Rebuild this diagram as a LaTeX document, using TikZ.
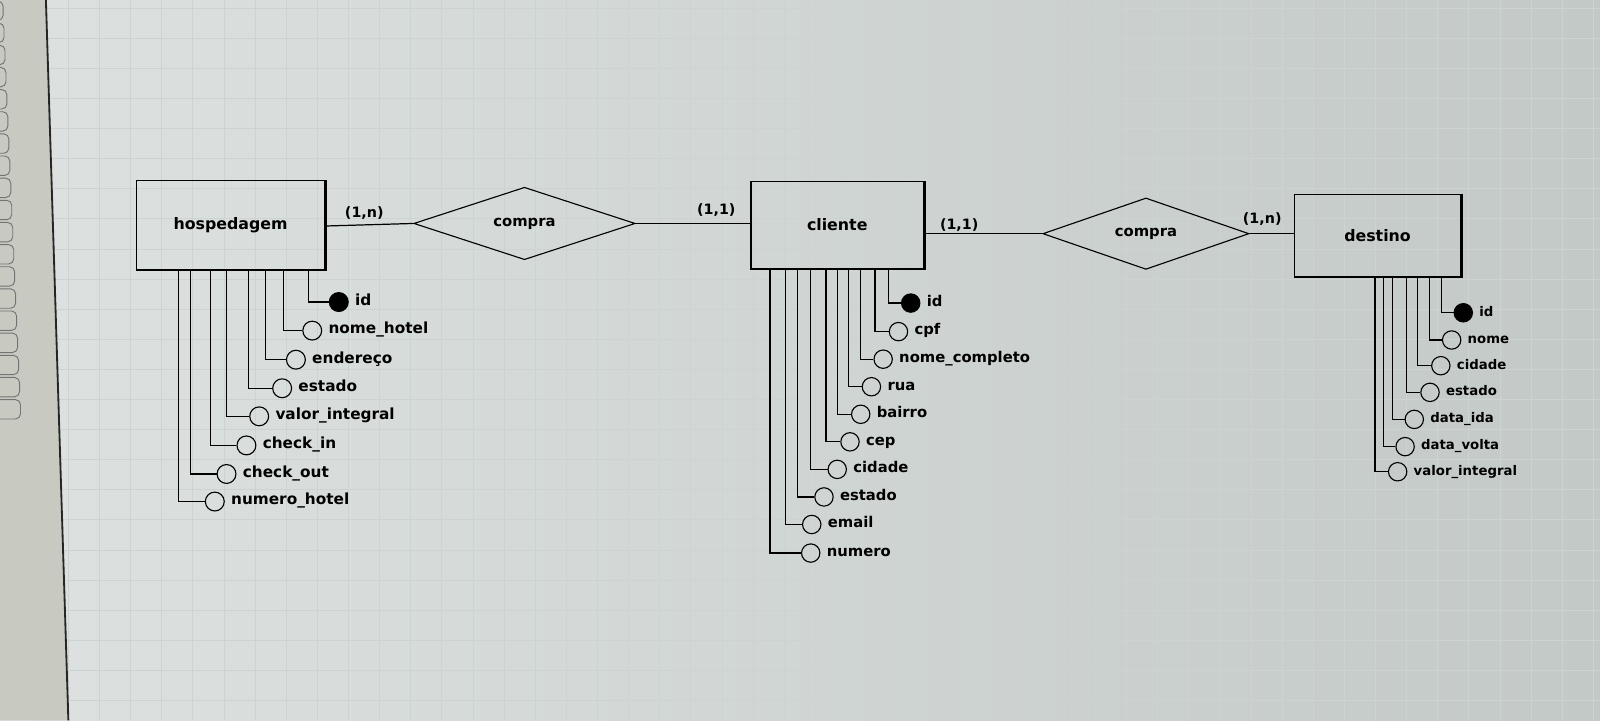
\documentclass[tikz,border=0pt]{standalone}
\usepackage{fontspec}
\setmainfont{DejaVu Sans}
\usepackage{tikz}
\usetikzlibrary{shapes.geometric}

\definecolor{fundoE}{HTML}{DDE2E1}
\definecolor{fundoM}{HTML}{E3E8E6}
\definecolor{fundoD}{HTML}{C3C9C7}
\definecolor{painel}{HTML}{C8CAC2}
\definecolor{grade}{HTML}{CDD3D3}

\begin{document}
\begin{tikzpicture}[x=1pt,y=-1pt]
\tikzstyle{entidade}=[rectangle,draw,line width=1.1pt,inner sep=0pt,font=\fontsize{15.5}{17}\selectfont\bfseries]
\tikzstyle{borda}=[line width=2.4pt]
\tikzstyle{relacao}=[diamond,draw,line width=1.1pt,aspect=3,inner sep=0pt,font=\fontsize{14.5}{16}\selectfont\bfseries]
\tikzstyle{atributo}=[circle,draw,line width=1.1pt,inner sep=0pt,minimum size=18.5pt]
\tikzstyle{chave}=[atributo,fill=black]
\tikzstyle{rotulo}=[anchor=west,inner sep=1pt,xshift=5pt,text height=1.55ex,text depth=.35ex]
\tikzstyle{liga}=[line width=1.2pt]
\tikzstyle{card}=[inner sep=0pt,font=\fontsize{14}{16}\selectfont\bfseries]
\useasboundingbox (0,0) rectangle (1568,706);
% tela
\shade[left color=fundoE,middle color=fundoM,right color=fundoD] (0,0) rectangle (1568,706);
\foreach \gx in {67,97.5,...,1568}
  \draw[grade,line width=0.8pt] (\gx,0) -- (\gx,706);
\foreach \gy in {8,37.5,...,706}
  \draw[grade,line width=0.8pt] (40,\gy) -- (1568,\gy);
\fill[painel] (0,0) -- (45,0) -- (67,706) -- (0,706) -- cycle;
\foreach \k in {0,...,18}
  \draw[black!55,fill=painel,rounded corners=5pt,line width=0.9pt]
    (-12,21.7*\k+1) rectangle (3+0.95*\k,21.7*\k+20);
\draw[black!85,line width=1.8pt] (45,0) -- (67,706);

% entidades e relacionamentos
\node[entidade,minimum width=184pt,minimum height=87pt] (hosp) at (226,220.5) {hospedagem};
\node[entidade,minimum width=169pt,minimum height=85pt] (cli) at (820.5,220.5) {cliente};
\node[entidade,minimum width=162pt,minimum height=80pt] (dest) at (1350,231) {destino};
\draw[borda] ([xshift=0.6pt]hosp.north east) |- ([xshift=-0.5pt]hosp.south west);
\draw[borda] ([xshift=0.6pt]cli.north east) |- ([xshift=-0.5pt]cli.south west);
\draw[borda] ([xshift=0.6pt]dest.north east) |- ([xshift=-0.5pt]dest.south west);
\node[relacao,minimum width=217pt,minimum height=71pt] (comp1) at (514,219) {compra};
\node[relacao,minimum width=202pt,minimum height=70pt] (comp2) at (1123,229) {compra};

\draw[liga] (hosp.east |- 0,221.5) -- (comp1.west);
\draw[liga] (comp1.east) -- (comp1.east -| cli.west);
\draw[liga] (cli.east |- comp2.west) -- (comp2.west);
\draw[liga] (comp2.east) -- (comp2.east -| dest.west);
\node[card] (card1) at (357,209) {(1,n)};
\node[card] (card2) at (702,206) {(1,1)};
\node[card] (card3) at (940,221) {(1,1)};
\node[card] (card4) at (1237,215) {(1,n)};

% atributos de hospedagem
\node[chave] (hid) at (332,296) {};
\node[rotulo,font=\fontsize{15}{17}\selectfont\bfseries] at (hid.east) {id};
\draw[liga] (302,0 |- hosp.south) |- (hid.west);
\foreach \lx/\ay/\cx/\nome/\txt in {278/324/306/hnome/nome\_hotel,260/352.5/290/hend/endereço,
    243.5/380.5/276.5/hest/estado,222/408/254/hval/valor\_integral,206.5/436.5/241.5/hin/check\_in,
    187/464.5/222/hout/check\_out,175/491.5/210.5/hnum/numero\_hotel}{
  \node[atributo] (\nome) at (\cx,\ay) {};
  \node[rotulo,font=\fontsize{15}{17}\selectfont\bfseries] at (\nome.east) {\txt};
  \draw[liga] (\lx,0 |- hosp.south) |- (\nome.west);
}

% atributos de cliente
\node[chave,minimum size=18pt] (cid) at (892.5,297) {};
\node[rotulo,font=\fontsize{14.5}{16}\selectfont\bfseries] at (cid.east) {id};
\draw[liga] (870.5,0 |- cli.south) |- (cid.west);
\foreach \lx/\ay/\cx/\nome/\txt in {857.5/325/880.5/ccpf/cpf,843/352/865.5/cnome/nome\_completo,
    831.5/379/854/crua/rua,820.5/406/843.5/cbai/bairro,809.5/433/833/ccep/cep,
    794.5/460/820.5/ccid/cidade,781.5/487/807.5/cest/estado,769.5/514/795.5/cmail/email,
    754.5/542/794.5/cnum/numero}{
  \node[atributo,minimum size=18pt] (\nome) at (\cx,\ay) {};
  \node[rotulo,font=\fontsize{14.5}{16}\selectfont\bfseries] at (\nome.east) {\txt};
  \draw[liga] (\lx,0 |- cli.south) |- (\nome.west);
}

% atributos de destino
\node[chave,minimum size=18pt] (did) at (1434,306.5) {};
\node[rotulo,font=\fontsize{13}{15}\selectfont\bfseries] at (did.east) {id};
\draw[liga] (1413,0 |- dest.south) |- (did.west);
\foreach \lx/\ay/\cx/\nome/\txt in {1400.7/333.2/1422.6/dnome/nome,1389.3/358.4/1412/dcid/cidade,
    1378.5/384.5/1401.4/dest2/estado,1364.8/411/1386/dida/data\_ida,
    1355.7/437.7/1377/dvol/data\_volta,1347.5/462.3/1369.7/dval/valor\_integral}{
  \node[atributo,minimum size=18pt] (\nome) at (\cx,\ay) {};
  \node[rotulo,font=\fontsize{13}{15}\selectfont\bfseries] at (\nome.east) {\txt};
  \draw[liga] (\lx,0 |- dest.south) |- (\nome.west);
}
\end{tikzpicture}
\end{document}
